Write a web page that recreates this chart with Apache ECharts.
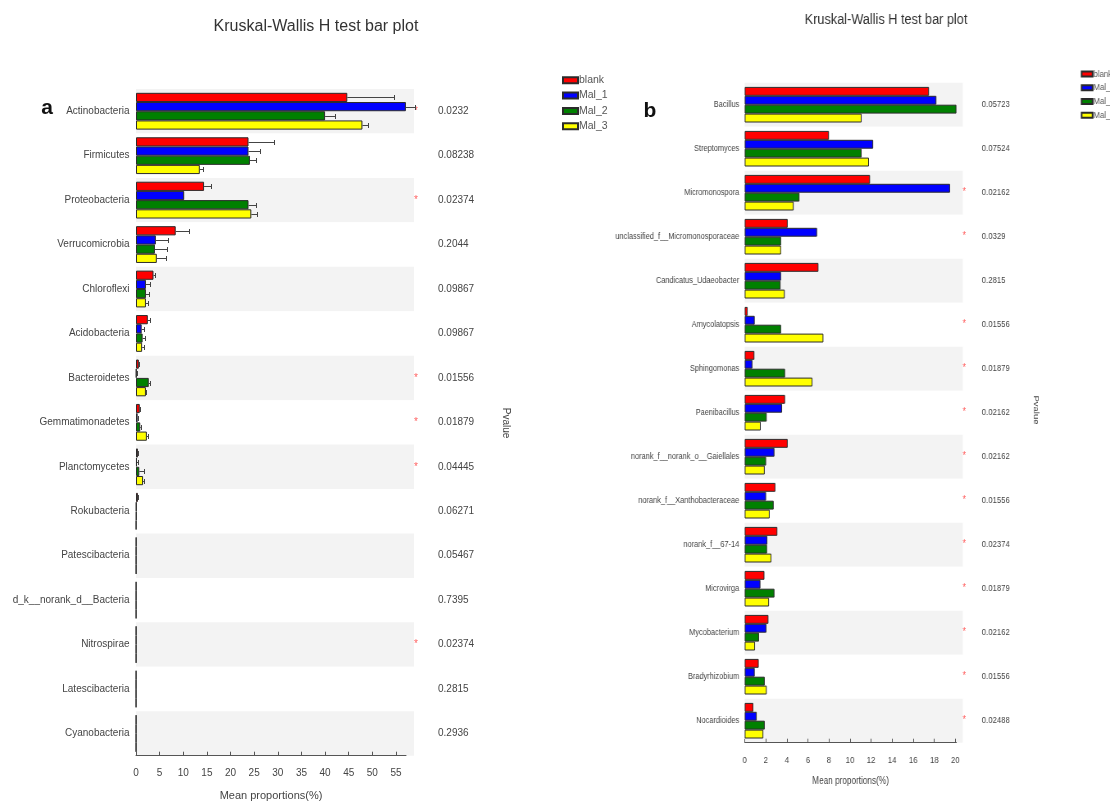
<!DOCTYPE html>
<html>
<head>
<meta charset="utf-8">
<script src="https://cdn.jsdelivr.net/npm/echarts@6/dist/echarts.min.js"></script>
<style>
  html, body { margin: 0; padding: 0; background: #ffffff; }
  #wrap { position: relative; width: 1110px; height: 801px; overflow: hidden; }
  #chartA { position: absolute; left: 0; top: 0; width: 1110px; height: 801px; }
  /* genus panel is drawn in a horizontally condensed frame */
  #chartB { position: absolute; left: 600px; top: 0; width: 622px; height: 801px;
            transform: scaleX(0.82); transform-origin: 0 0; }
</style>
</head>
<body>
<div id="wrap">
  <div id="chartA"></div>
  <div id="chartB"></div>
</div>
<script>
// ---- groups ----
const groups = ['blank', 'Mal_1', 'Mal_2', 'Mal_3'];
const groupColors = ['#ff0000', '#0000ff', '#008000', '#ffff00'];

// ---- panel a: phylum level (mean proportions, %) ----
const phyla = ['Actinobacteria', 'Firmicutes', 'Proteobacteria', 'Verrucomicrobia', 'Chloroflexi',
  'Acidobacteria', 'Bacteroidetes', 'Gemmatimonadetes', 'Planctomycetes', 'Rokubacteria',
  'Patescibacteria', 'd_k__norank_d__Bacteria', 'Nitrospirae', 'Latescibacteria', 'Cyanobacteria'];
const phylaBlank = [44.7, 23.8, 14.4, 8.4, 3.7, 2.5, 0.6, 0.8, 0.4, 0.4, 0.06, 0.05, 0.05, 0.04, 0.04];
const phylaMal1 = [57.1, 23.8, 10.2, 4.2, 2.1, 1.2, 0.1, 0.35, 0.2, 0.1, 0.05, 0.04, 0.05, 0.03, 0.03];
const phylaMal2 = [40.0, 24.1, 23.8, 4.0, 2.1, 1.4, 2.7, 0.9, 0.7, 0.1, 0.05, 0.04, 0.04, 0.03, 0.03];
const phylaMal3 = [47.9, 13.5, 24.4, 4.4, 2.1, 1.3, 2.1, 2.3, 1.5, 0.05, 0.05, 0.04, 0.04, 0.03, 0.03];
// standard errors
const phylaErrBlank = [9.8, 5.3, 1.5, 2.9, 0.3, 0.5, 0.1, 0.1, 0.1, 0.05, 0, 0, 0, 0, 0];
const phylaErrMal1 = [2.0, 2.4, 0, 2.6, 0.8, 0.5, 0.05, 0.1, 0.3, 0, 0, 0, 0, 0, 0];
const phylaErrMal2 = [2.1, 1.3, 1.6, 2.6, 0.6, 0.4, 0.3, 0.2, 0.9, 0, 0, 0, 0, 0, 0];
const phylaErrMal3 = [1.2, 0.6, 1.1, 1.9, 0.5, 0.4, 0.1, 0.2, 0.2, 0, 0, 0, 0, 0, 0];
const phylaP = ['0.0232', '0.08238', '0.02374', '0.2044', '0.09867', '0.09867', '0.01556', '0.01879',
  '0.04445', '0.06271', '0.05467', '0.7395', '0.02374', '0.2815', '0.2936'];
const phylaSig = ['*', '', '*', '', '', '', '*', '*', '*', '', '', '', '*', '', ''];
const phylaTicks = [0, 5, 10, 15, 20, 25, 30, 35, 40, 45, 50, 55];

// ---- panel b: genus level (mean proportions, %) ----
const genera = ['Bacillus', 'Streptomyces', 'Micromonospora', 'unclassified_f__Micromonosporaceae',
  'Candicatus_Udaeobacter', 'Amycolatopsis', 'Sphingomonas', 'Paenibacillus',
  'norank_f__norank_o__Gaiellales', 'norank_f__Xanthobacteraceae', 'norank_f__67-14', 'Microvirga',
  'Mycobacterium', 'Bradyrhizobium', 'Nocardioides'];
const generaBlank = [17.5, 8.0, 11.9, 4.08, 7.0, 0.28, 0.92, 3.83, 4.08, 2.91, 3.1, 1.87, 2.25, 1.33, 0.82];
const generaMal1 = [18.2, 12.2, 19.5, 6.87, 3.45, 0.95, 0.73, 3.55, 2.82, 2.03, 2.15, 1.49, 2.06, 0.95, 1.14];
const generaMal2 = [20.1, 11.1, 5.2, 3.45, 3.4, 3.45, 3.83, 2.09, 2.03, 2.75, 2.12, 2.82, 1.36, 1.9, 1.9];
const generaMal3 = [11.1, 11.8, 4.65, 3.45, 3.8, 7.47, 6.43, 1.52, 1.9, 2.37, 2.53, 2.31, 0.98, 2.09, 1.77];
const generaP = ['0.05723', '0.07524', '0.02162', '0.0329', '0.2815', '0.01556', '0.01879', '0.02162',
  '0.02162', '0.01556', '0.02374', '0.01879', '0.02162', '0.01556', '0.02488'];
const generaSig = ['', '', '*', '*', '', '*', '*', '*', '*', '*', '*', '*', '*', '*', '*'];
const generaTicks = [0, 2, 4, 6, 8, 10, 12, 14, 16, 18, 20];

// ---- styling ----
const FONT = "'Liberation Sans', Arial, sans-serif";
const TEXT = '#444';
const STAR = '#ff6060';
const BAR_A = 9.2;
const BAR_B = 8.9;
const BAND = ['#f3f3f3', '#ffffff'];
const SQUEEZE = 0.82;   // horizontal scale of the genus frame

function barSeries(name, idx, data, barW) {
  return {
    type: 'bar', name: name, data: data,
    xAxisIndex: 0, yAxisIndex: 0,
    barWidth: barW, barGap: '0%',
    itemStyle: { color: groupColors[idx], borderColor: '#2b2b2b', borderWidth: 1 },
    emphasis: { disabled: true },
    silent: true
  };
}

function catAxis(gridIndex, data, opts) {
  return Object.assign({
    type: 'category', gridIndex: gridIndex, data: data, inverse: true,
    axisLine: { show: false }, axisTick: { show: false }, splitLine: { show: false }
  }, opts);
}

function valueAxisStyle(fontSize, labelMargin, ticks, nameGap, nameSize) {
  return {
    axisLine: { show: true, lineStyle: { color: '#555', width: 1 } },
    axisTick: { show: true, inside: true, length: 4, lineStyle: { color: '#555' } },
    axisLabel: { show: true, margin: labelMargin, fontSize: fontSize, color: TEXT, fontFamily: FONT, showMaxLabel: false,
      formatter: function (v) { return ticks.indexOf(v) >= 0 ? String(v) : ''; } },
    splitLine: { show: false },
    name: 'Mean proportions(%)', nameLocation: 'middle', nameGap: nameGap,
    nameTextStyle: { fontSize: nameSize, color: TEXT, fontFamily: FONT }
  };
}

// error bars: a whisker from the bar end to mean + SE, with a small cap
const errRows = [];
[[phylaBlank, phylaErrBlank], [phylaMal1, phylaErrMal1], [phylaMal2, phylaErrMal2], [phylaMal3, phylaErrMal3]]
  .forEach(function (pair, k) {
    pair[0].forEach(function (m, i) { errRows.push([i, m, pair[1][i], k]); });
  });

function renderErr(params, api) {
  const cat = api.value(0), m = api.value(1), e = api.value(2), k = api.value(3);
  if (!(e > 0)) return null;
  const p0 = api.coord([m, cat]);
  const p1 = api.coord([m + e, cat]);
  const y = Math.round(p0[1] + (k - 1.5) * BAR_A) + 0.5;
  const x2 = Math.round(p1[0]) + 0.5;
  return {
    type: 'group',
    children: [
      { type: 'line', shape: { x1: p0[0], y1: y, x2: x2, y2: y }, style: { stroke: '#444', lineWidth: 1 } },
      { type: 'line', shape: { x1: x2, y1: y - 2.5, x2: x2, y2: y + 2.5 }, style: { stroke: '#444', lineWidth: 1 } }
    ]
  };
}

// ================= panel a =================
const chartA = echarts.init(document.getElementById('chartA'), null, { renderer: 'canvas' });
chartA.setOption({
  animation: false,
  backgroundColor: '#ffffff',
  grid: [
    { left: 136, top: 89, width: 278, height: 666.7, containLabel: false, outerBoundsMode: 'none' },
    { left: 136, top: 89, width: 270, height: 666.7, containLabel: false, outerBoundsMode: 'none' }
  ],
  xAxis: [
    { type: 'value', gridIndex: 0, min: 0, max: 58.81, show: false },
    Object.assign({ type: 'value', gridIndex: 1, min: 0, max: 57.12, interval: 5, offset: 8 },
      valueAxisStyle(10, 5, phylaTicks, 27, 11))
  ],
  yAxis: [
    catAxis(0, phyla, {
      axisLabel: { margin: 6.5, fontSize: 10, color: TEXT, fontFamily: FONT },
      splitArea: { show: true, areaStyle: { color: BAND } }
    }),
    catAxis(0, phylaP, { position: 'right', axisLabel: { margin: 24, fontSize: 10, color: TEXT, fontFamily: FONT } }),
    catAxis(0, phylaSig, { position: 'right', axisLabel: { margin: 0, fontSize: 10, color: STAR, fontFamily: FONT, padding: [0, 0, 7, 0] } }),
    { type: 'value', gridIndex: 1, show: false, min: 0, max: 1 }
  ],
  legend: {
    left: 557, top: 69.3, orient: 'vertical', icon: 'rect', itemWidth: 15, itemHeight: 6, itemGap: 3.3,
    selectedMode: false, data: groups,
    textStyle: { fontSize: 10.5, lineHeight: 12, color: '#555', fontFamily: FONT, padding: [0, 0, 0, -4] }
  },
  series: [
    barSeries(groups[0], 0, phylaBlank, BAR_A),
    barSeries(groups[1], 1, phylaMal1, BAR_A),
    barSeries(groups[2], 2, phylaMal2, BAR_A),
    barSeries(groups[3], 3, phylaMal3, BAR_A),
    {
      type: 'custom', name: 'SE', xAxisIndex: 0, yAxisIndex: 0, data: errRows,
      encode: { x: 1, y: 0 }, renderItem: renderErr, silent: true, z: 5, clip: false
    }
  ],
  graphic: [
    { type: 'text', x: 316, y: 27, style: { text: 'Kruskal-Wallis H test bar plot', font: '16px ' + FONT, fill: '#333', align: 'center', verticalAlign: 'middle' } },
    { type: 'text', x: 47, y: 108, style: { text: 'a', font: 'bold 21px ' + FONT, fill: '#111', align: 'center', verticalAlign: 'middle' } },
    { type: 'text', x: 650, y: 111, style: { text: 'b', font: 'bold 21px ' + FONT, fill: '#111', align: 'center', verticalAlign: 'middle' } },
    { type: 'text', x: 506, y: 423, rotation: -Math.PI / 2, style: { text: 'Pvalue', font: '10px ' + FONT, fill: TEXT, align: 'center', verticalAlign: 'middle' } }
  ]
});

// ================= panel b (condensed frame, x in frame units) =================
const bx = function (px) { return (px - 600) / SQUEEZE; };
const chartB = echarts.init(document.getElementById('chartB'), null, { renderer: 'canvas' });
chartB.setOption({
  animation: false,
  backgroundColor: 'transparent',
  grid: [
    { left: bx(744.7), top: 82.7, width: 218 / SQUEEZE, height: 660, containLabel: false, outerBoundsMode: 'none' },
    { left: bx(744.7), top: 82.7, width: 211.7 / SQUEEZE, height: 660, containLabel: false, outerBoundsMode: 'none' }
  ],
  xAxis: [
    { type: 'value', gridIndex: 0, min: 0, max: 20.70, show: false },
    Object.assign({ type: 'value', gridIndex: 1, min: 0, max: 20.1, interval: 2, offset: 10 },
      valueAxisStyle(9.5, 3, generaTicks, 24, 10))
  ],
  yAxis: [
    catAxis(0, genera, {
      axisLabel: { margin: 6.6, fontSize: 9, color: TEXT, fontFamily: FONT },
      splitArea: { show: true, areaStyle: { color: BAND } }
    }),
    catAxis(0, generaP, { position: 'right', axisLabel: { margin: 23.2, fontSize: 9.5, color: TEXT, fontFamily: FONT } }),
    catAxis(0, generaSig, { position: 'right', axisLabel: { margin: 0, fontSize: 10, color: STAR, fontFamily: FONT, padding: [0, 0, 7, 0] } }),
    { type: 'value', gridIndex: 1, show: false, min: 0, max: 1 }
  ],
  legend: {
    left: bx(1076.7), top: 63.8, orient: 'vertical', icon: 'rect', itemWidth: 11 / SQUEEZE, itemHeight: 5, itemGap: 3.2,
    selectedMode: false, data: groups,
    textStyle: { fontSize: 9.5, lineHeight: 10.5, color: '#555', fontFamily: FONT, padding: [0, 0, 0, -4] }
  },
  series: [
    barSeries(groups[0], 0, generaBlank, BAR_B),
    barSeries(groups[1], 1, generaMal1, BAR_B),
    barSeries(groups[2], 2, generaMal2, BAR_B),
    barSeries(groups[3], 3, generaMal3, BAR_B)
  ],
  graphic: [
    { type: 'text', x: bx(886), y: 20, style: { text: 'Kruskal-Wallis H test bar plot', font: '15.5px ' + FONT, fill: '#333', align: 'center', verticalAlign: 'middle' } },
    { type: 'text', x: bx(1036), y: 410, rotation: -Math.PI / 2, style: { text: 'Pvalue', font: '9.5px ' + FONT, fill: TEXT, align: 'center', verticalAlign: 'middle' } }
  ]
});
</script>
</body>
</html>
